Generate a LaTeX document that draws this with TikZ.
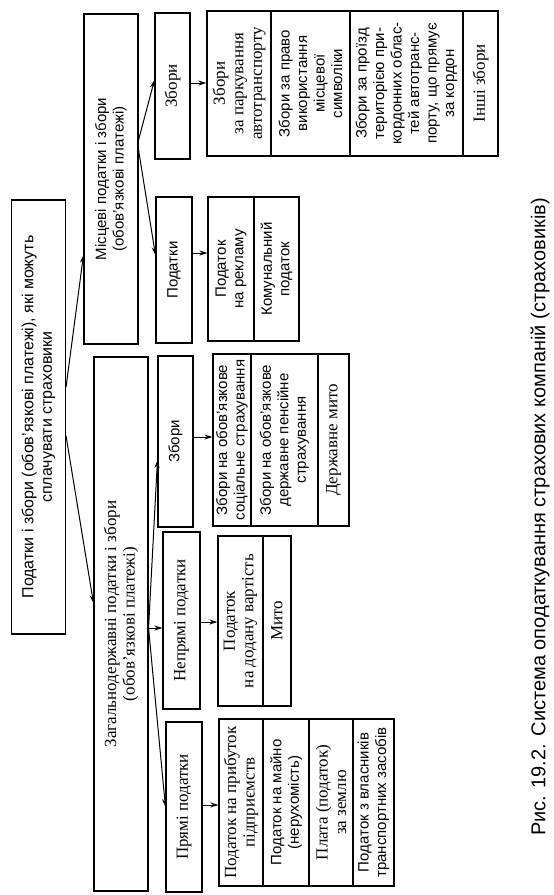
\documentclass[tikz,border=0pt]{standalone}
\usepackage{fontspec}
\setmainfont{Liberation Sans}
\newfontfamily\serf{Liberation Serif}
\usetikzlibrary{arrows.meta,calc}
\begin{document}
\begin{tikzpicture}[x=1pt,y=-1pt,
  box/.style={draw, line width=1.1pt, rotate=90, align=center, inner sep=2pt,
    font=\fontsize{15}{17.5}\selectfont},
  rm/.style={font=\fontsize{17}{18.5}\selectfont\serf},
  arr/.style={-{Stealth[length=8pt,width=5pt]}, line width=1pt}]
\useasboundingbox (0,0) rectangle (554,895);
% level 1
\node[box, font=\fontsize{16}{18.5}\selectfont, minimum width=434, minimum height=54] (top) at (38.5,417)
  {Податки і збори (обов’язкові платежі), які можуть\\сплачувати страховики};
% level 2
\node[box, minimum width=330, minimum height=54] (mis) at (111,179)
  {Місцеві податки і збори\\(обов’язкові платежі)};
\node[box, rm, minimum width=534, minimum height=54] (zag) at (121,624)
  {Загальнодержавні податки і збори\\(обов’язкові платежі)};
% level 3
\node[box, rm, minimum width=146, minimum height=35] (zl) at (172.5,86) {Збори};
\node[box, minimum width=146, minimum height=36] (pl) at (174,270) {Податки};
\node[box, minimum width=171, minimum height=35] (zg) at (175.5,441.5) {Збори};
\node[box, rm, minimum width=177, minimum height=37] (np) at (181.5,620.5) {Непрямі податки};
\node[box, rm, minimum width=170, minimum height=36] (pp) at (184,807) {Прямі податки};
% level 4: local fees
\node[box, rm, minimum width=145, minimum height=64] (c1) at (239,83.5)
  {Збори\\за паркування\\автотранспорту};
\node[box, minimum width=145, minimum height=79] (c2) at (310.5,83.5)
  {Збори за право\\використання\\місцевої\\символіки};
\node[box, minimum width=145, minimum height=113] (c3) at (406.5,83.5)
  {Збори за проїзд\\територією при-\\кордонних облас-\\тей автотранс-\\порту, що прямує\\за кордон};
\node[box, rm, minimum width=145, minimum height=35] (c4) at (480.5,83.5) {Інші збори};
% level 4: local taxes
\node[box, minimum width=144, minimum height=46] (d1) at (231,269) {Податок\\на рекламу};
\node[box, minimum width=144, minimum height=45] (d2) at (276.5,269) {Комунальний\\податок};
% level 4: state fees
\node[box, minimum width=172, minimum height=38] (e1) at (232,440)
  {Збори на обов’язкове\\соціальне страхування};
\node[box, minimum width=172, minimum height=67] (e2) at (284.5,440)
  {Збори на обов’язкове\\державне пенсійне\\страхування};
\node[box, rm, minimum width=172, minimum height=31] (e3) at (333.5,440) {Державне мито};
% level 4: indirect taxes
\node[box, rm, minimum width=170, minimum height=45] (f1) at (240.5,621)
  {Податок\\на додану вартість};
\node[box, rm, minimum width=170, minimum height=28] (f2) at (277,621) {Мито};
% level 4: direct taxes
\node[box, rm, minimum width=167, minimum height=44] (g1) at (241,802.5)
  {Податок на прибуток\\підприємств};
\node[box, minimum width=167, minimum height=46] (g2) at (286,802.5)
  {Податок на майно\\(нерухомість)};
\node[box, rm, minimum width=167, minimum height=44] (g3) at (331,802.5)
  {Плата (податок)\\за землю};
\node[box, minimum width=167, minimum height=41] (g4) at (373.5,802.5)
  {Податок з власників\\транспортних засобів};
% caption
\node[rotate=90, font=\fontsize{20}{24}\selectfont] (cap) at (540,517)
  {Рис. 19.2. Система оподаткування страхових компаній (страховиків)};
% connectors
\draw[arr] (top.south |- 0,387) -- (mis.north |- 0,255);
\draw[arr] (top.south |- 0,436) -- (zag.north |- 0,603);
\draw[arr] (mis.south |- 0,140) -- (zl.north |- 0,80);
\draw[arr] (mis.south |- 0,150) -- (pl.north |- 0,255);
\draw[arr] (zag.south |- 0,628) -- (zg.north |- 0,460);
\draw[arr] (zag.south |- 0,628) -- (np.north |- 0,628);
\draw[arr] (zag.south |- 0,628) -- (pp.north |- 0,807);
\draw[arr] (zl.south |- 0,83) -- (c1.north |- 0,83);
\draw[arr] (pl.south |- 0,253) -- (d1.north |- 0,253);
\draw[arr] (zg.south |- 0,437) -- (e1.north |- 0,437);
\draw[arr] (np.south |- 0,622) -- (f1.north |- 0,622);
\draw[arr] (pp.south |- 0,805) -- (g1.north |- 0,805);
\end{tikzpicture}
\end{document}
